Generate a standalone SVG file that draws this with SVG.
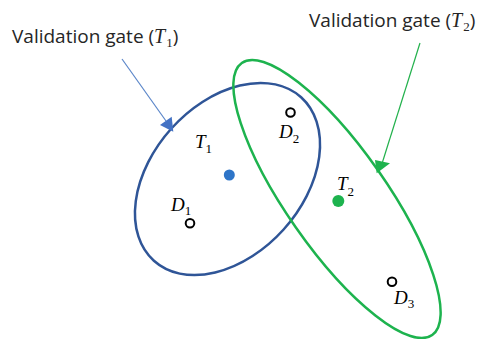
<svg xmlns="http://www.w3.org/2000/svg" width="479" height="339" viewBox="0 0 479 339">
<style>
.lbl{font-family:"Open Sans","Liberation Sans",Arial,sans-serif;font-size:19px;fill:#262626}
.m{font-family:"Liberation Serif","Times New Roman",serif;font-style:italic;font-size:19px;fill:#000}
.lm{font-family:"Liberation Serif","Times New Roman",serif;font-style:italic;font-size:20px}
.s{font-family:"Liberation Serif","Times New Roman",serif;font-style:normal;font-size:13px}
.det{fill:#fff;stroke:#000;stroke-width:2}
</style>
<rect width="479" height="339" fill="#fff"/>
<g id="gate1">
<ellipse cx="227.5" cy="179" rx="110" ry="75.5" transform="rotate(-48 227.5 179)" fill="none" stroke="#2f5597" stroke-width="2.5"/>
</g>
<g id="gate2">
<ellipse cx="337" cy="199" rx="166" ry="50" transform="rotate(55 337 199)" fill="none" stroke="#1db34e" stroke-width="2.5"/>
</g>
<g id="connectors">
<line x1="122" y1="59" x2="166" y2="121" stroke="#5b86c9" stroke-width="1.2"/>
<polygon points="173.3,131.7 160,125 171.7,116.7" fill="#4472c4"/>
<line x1="420" y1="43" x2="382.5" y2="162" stroke="#22b14c" stroke-width="1.2"/>
<polygon points="376.7,173.3 375,160 390,163.3" fill="#1db34e"/>
</g>
<g id="label1"><text class="lbl" x="12" y="42.5">Validation gate (<tspan class="lm">T</tspan><tspan class="s" dx="1" dy="4">1</tspan><tspan dy="-4">)</tspan></text></g>
<g id="label2"><text class="lbl" x="309" y="26.5">Validation gate (<tspan class="lm">T</tspan><tspan class="s" dx="1" dy="4">2</tspan><tspan dy="-4">)</tspan></text></g>
<g id="T1"><circle cx="229.3" cy="175" r="5.5" fill="#2e75c8"/><text class="m" x="195" y="148">T<tspan class="s" dy="5">1</tspan></text></g>
<g id="T2"><circle cx="338.3" cy="201" r="6" fill="#1db34e"/><text class="m" x="337" y="190">T<tspan class="s" dy="6">2</tspan></text></g>
<g id="D1"><circle class="det" cx="190" cy="223.3" r="4.3"/><text class="m" x="171" y="211">D<tspan class="s" dy="4">1</tspan></text></g>
<g id="D2"><circle class="det" cx="290.5" cy="112.5" r="4.3"/><text class="m" x="279" y="138">D<tspan class="s" dy="5">2</tspan></text></g>
<g id="D3"><circle class="det" cx="392" cy="281.7" r="4.3"/><text class="m" x="394" y="304">D<tspan class="s" dy="4">3</tspan></text></g>
</svg>
